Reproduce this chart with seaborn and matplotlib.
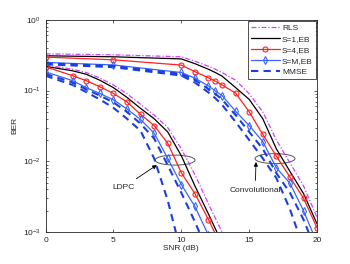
import matplotlib
matplotlib.use("Agg")
import matplotlib.pyplot as plt
import numpy as np
import pandas as pd
import seaborn as sns
from matplotlib.patches import Ellipse

# SNR grids (dB)
snr_ldpc = [0, 2, 3, 4, 5, 6, 7, 8, 9, 10, 11, 12, 13]
snr_conv = [0, 5, 10, 11, 12, 12.5, 13, 14, 15, 16, 17, 18, 19, 20]

# LDPC group
ldpc_rls = [0.23, 0.20, 0.18, 0.15, 0.12, 0.09, 0.064, 0.045, 0.030, 0.015, 0.0065, 0.0025, 0.001]
ldpc_s1 = [0.22, 0.19, 0.17, 0.14, 0.11, 0.08, 0.056, 0.040, 0.026, 0.012, 0.0045, 0.0018, 0.0007]
ldpc_s4 = [0.217, 0.162, 0.138, 0.113, 0.091, 0.069, 0.046, 0.032, 0.018, 0.0069, 0.0035, 0.0015, 0.0006]
ldpc_sm = [0.184, 0.138, 0.110, 0.091, 0.074, 0.055, 0.039, 0.025, 0.011, 0.0047, 0.0023, 0.0009, 0.0004]
ldpc_mmse = [0.172, 0.13, 0.104, 0.085, 0.068, 0.05, 0.034, 0.021, 0.0088, 0.0036, 0.0014, 0.0005, 0.0002]
ldpc_mmse2 = [0.162, 0.12, 0.095, 0.075, 0.057, 0.040, 0.027, 0.011, 0.0028, 0.0005, 0.0001, 0.00005, 0.00002]

# Convolutional group
conv_rls = [0.33, 0.32, 0.30, 0.26, 0.22, 0.20, 0.18, 0.14, 0.09, 0.05, 0.02, 0.0095, 0.0045, 0.0016]
conv_s1 = [0.31, 0.30, 0.28, 0.24, 0.20, 0.18, 0.16, 0.11, 0.075, 0.040, 0.015, 0.0072, 0.0035, 0.0013]
conv_s4 = [0.297, 0.272, 0.229, 0.185, 0.151, 0.136, 0.12, 0.092, 0.050, 0.024, 0.0118, 0.0060, 0.0030, 0.00114]
conv_sm = [0.25, 0.23, 0.18, 0.15, 0.116, 0.099, 0.085, 0.051, 0.032, 0.019, 0.0081, 0.0049, 0.0020, 0.0007]
conv_mmse = [0.243, 0.222, 0.172, 0.142, 0.105, 0.09, 0.075, 0.045, 0.026, 0.015, 0.0068, 0.0036, 0.0015, 0.0005]
conv_mmse2 = [0.235, 0.214, 0.163, 0.13, 0.094, 0.078, 0.063, 0.036, 0.02, 0.011, 0.0058, 0.0021, 0.0006, 0.0002]

labels = ["RLS", "S=1,EB", "S=4,EB", "S=M,EB", "MMSE"]
colors = ["#cc44ff", "black", "#ff2020", "#3a66ff", "#1a3fe0"]

sns.set_theme(style="ticks")
plt.rcParams["font.family"] = ["Liberation Sans", "DejaVu Sans"]
plt.rcParams["xtick.direction"] = "in"
plt.rcParams["ytick.direction"] = "in"

fig = plt.figure(figsize=(3.5, 2.64), dpi=100)
ax = fig.add_axes([0.130, 0.121, 0.776, 0.804])

styles = {
    "RLS": dict(linestyle=(0, (4, 1.5, 1, 1.5)), linewidth=0.9, marker="None"),
    "S=1,EB": dict(linestyle="-", linewidth=0.9, marker="None"),
    "S=4,EB": dict(linestyle="-", linewidth=0.9, marker="o", markersize=3.6,
                   markerfacecolor="none", markeredgewidth=0.8),
    "S=M,EB": dict(linestyle="-", linewidth=0.9, marker="d", markersize=3.6,
                   markerfacecolor="none", markeredgewidth=0.8),
    "MMSE": dict(linestyle=(0, (3.5, 2.5)), linewidth=1.5, marker="None"),
}

groups = [
    (snr_ldpc, [ldpc_rls, ldpc_s1, ldpc_s4, ldpc_sm, ldpc_mmse], ldpc_mmse2),
    (snr_conv, [conv_rls, conv_s1, conv_s4, conv_sm, conv_mmse], conv_mmse2),
]
handles = {}
for snr, series, extra in groups:
    # second MMSE-style curve, drawn under the others
    sns.lineplot(x=snr, y=extra, ax=ax, color=colors[4], sort=False)
    ax.lines[-1].set(color=colors[4], **styles["MMSE"])
    for lab, col, vals in zip(labels, colors, series):
        sns.lineplot(x=snr, y=vals, ax=ax, color=col, sort=False)
        line = ax.lines[-1]
        line.set(color=col, markeredgecolor=col, **styles[lab])
        handles[lab] = line

ax.set_yscale("log")
ax.set_xlim(0, 20)
ax.set_ylim(1e-3, 1)
ax.set_xticks([0, 5, 10, 15, 20])
ax.tick_params(which="both", top=True, right=True, labelsize=6, length=2.5, width=0.5)
ax.tick_params(which="minor", length=1.5)
for s in ax.spines.values():
    s.set_linewidth(0.6)
ax.set_xlabel("SNR (dB)", fontsize=6, labelpad=1)
ax.set_ylabel("BER", fontsize=6, labelpad=3)

leg = ax.legend([handles[l] for l in labels], labels, loc="upper right", fontsize=6,
                frameon=True, fancybox=False, edgecolor="black", borderpad=0.35,
                labelspacing=0.38, handlelength=3.4, handletextpad=0.3,
                borderaxespad=0.15)
leg.get_frame().set_linewidth(0.6)

# ellipses marking each curve group
for cx, cy in [(0.477, 0.339), (0.845, 0.346)]:
    ax.add_patch(Ellipse((cx, cy), 0.147, 0.047, transform=ax.transAxes,
                         fill=False, edgecolor="#555555", lw=0.7))

ax.annotate("LDPC", xy=(0.41, 0.316), xycoords="axes fraction",
            xytext=(0.289, 0.212), textcoords="axes fraction",
            fontsize=6, ha="center", va="center",
            arrowprops=dict(arrowstyle="-|>", color="black", lw=0.6,
                            mutation_scale=6, shrinkA=2, shrinkB=0))
ax.annotate("Convolutional", xy=(0.775, 0.33), xycoords="axes fraction",
            xytext=(0.772, 0.198), textcoords="axes fraction",
            fontsize=6, ha="center", va="center",
            arrowprops=dict(arrowstyle="-|>", color="black", lw=0.6,
                            mutation_scale=6, shrinkA=2, shrinkB=0))

fig.savefig("out.png", dpi=100)
